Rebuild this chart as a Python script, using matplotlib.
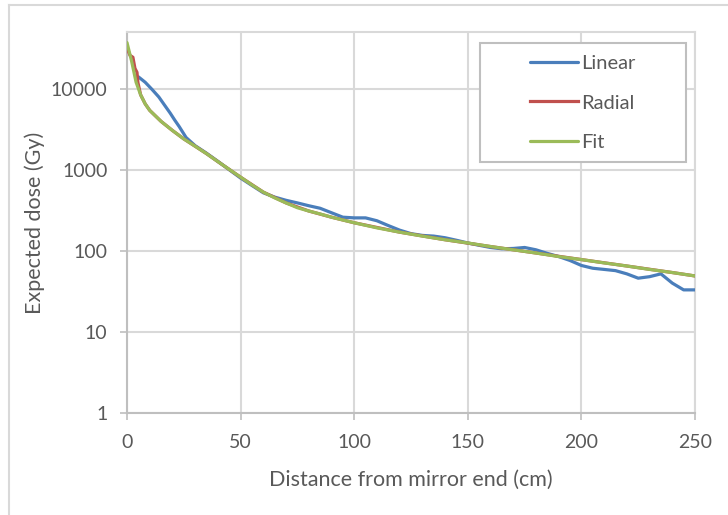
import matplotlib.pyplot as plt
from matplotlib.patches import Rectangle
from matplotlib.lines import Line2D

# distance (cm) and expected dose (Gy)
linear_x = [5, 8, 11, 14, 17, 19, 21, 23, 26, 30, 35, 40, 45, 50, 55, 60,
            65, 70, 75, 80, 85, 90, 95, 100, 105, 110, 115, 120, 125, 130, 135, 140,
            145, 150, 155, 160, 165, 170, 175, 180, 185, 190, 195, 200, 205, 210, 215,
            220, 225, 230, 235, 240, 245, 250]
linear_y = [14000, 12000, 9800, 7900, 6000, 5000, 4100, 3400, 2500, 1980, 1600, 1270,
            1000, 790, 640, 520, 460, 420, 390, 360, 335, 295,
            260, 255, 255, 235, 205, 180, 163, 155, 152, 145, 135, 125, 117, 110, 106,
            107, 110, 103, 93, 85, 76, 66, 61, 59, 57, 52, 46, 48, 52, 40, 33, 33]

radial_x = [0, 1.3, 2.6, 3.5, 4.4, 4.8, 6, 8, 10, 15, 20, 25, 30, 35, 40, 45, 50, 60, 70,
            80, 90, 100, 120, 140, 160, 180, 200, 220, 240, 250]
radial_y = [32000, 25800, 24400, 17800, 15900, 11900, 8400, 6500, 5400, 3950, 3050, 2400,
            1950, 1580, 1260, 1010, 810, 530, 390, 310, 260, 222, 170, 137, 113, 94, 78,
            65, 54, 49]

fit_x = [0, 2, 4, 6, 8, 10, 15, 20, 25, 30, 35, 40, 45, 50, 55, 60, 65, 70, 75, 80, 85,
         90, 95, 100, 110, 120, 130, 140, 150, 160, 170, 180, 190, 200, 210, 220, 230,
         240, 250]
fit_y = [37000, 22000, 12000, 8400, 6500, 5400, 3950, 3050, 2400, 1950, 1580, 1260, 1010,
         810, 650, 530, 450, 390, 340, 310, 285, 260, 240, 222, 192, 170, 152, 137, 125,
         113, 103, 94, 85, 78, 71, 65, 59, 54, 49]

xticks = [0, 50, 100, 150, 200, 250]
yticks = [1, 10, 100, 1000, 10000]

plt.rcParams['font.family'] = ['Lato', 'DejaVu Sans']
grey_text = '#595959'
grid_col = '#d9d9d9'

fig = plt.figure(figsize=(7.28, 5.15), dpi=100)
ax = fig.add_axes([127 / 728, 102 / 515, 568 / 728, 381 / 515])

ax.plot(linear_x, linear_y, color='#4a7ebb', lw=2.3, label='Linear',
        solid_capstyle='round', zorder=3)
ax.plot(radial_x, radial_y, color='#c0504d', lw=2.3, label='Radial', zorder=3)
ax.plot(fit_x, fit_y, color='#9bbb59', lw=2.3, label='Fit',
        solid_capstyle='round', zorder=4)

ax.set_yscale('log')
ax.set_xlim(0, 250)
ax.set_ylim(1, 50000)
ax.set_xticks(xticks)
ax.set_xticklabels([str(t) for t in xticks])
ax.set_yticks(yticks)
ax.set_yticklabels([str(t) for t in yticks])
ax.minorticks_off()

ax.grid(True, color=grid_col, lw=1.5)
ax.set_axisbelow(True)
for s in ['top', 'right']:
    ax.spines[s].set_color(grid_col)
    ax.spines[s].set_linewidth(1.5)
for s in ['left', 'bottom']:
    ax.spines[s].set_color('#bfbfbf')
    ax.spines[s].set_linewidth(1.5)
ax.tick_params(colors='#bfbfbf', labelcolor=grey_text, labelsize=14,
               length=5, width=1.2)
ax.tick_params(axis='y', pad=9)
ax.tick_params(axis='x', pad=10)

ax.set_xlabel('Distance from mirror end (cm)', fontsize=15.5, color=grey_text, labelpad=14)
ax.set_ylabel('Expected dose (Gy)', fontsize=15.5, color=grey_text, labelpad=4)

# legend box
ax.add_patch(Rectangle(((480 - 127) / 568, (413 - 162) / 381), 206 / 568, 119 / 381,
                       transform=ax.transAxes, fill=True, facecolor='white',
                       edgecolor='#bfbfbf', lw=1.5, zorder=5))
leg = ax.legend(loc='center', bbox_to_anchor=((583 - 127) / 568, (413 - 103) / 381),
                frameon=False, fontsize=14.5, handlelength=2.4, handletextpad=0.15,
                labelspacing=1.1, borderpad=0)
leg.set_zorder(6)
for t in leg.get_texts():
    t.set_color(grey_text)

# outer chart border
fig.add_artist(Line2D([8.5 / 728, 8.5 / 728], [0, 1 - 5 / 515], color=grid_col, lw=1.5))
fig.add_artist(Line2D([8.5 / 728, 1], [1 - 5 / 515, 1 - 5 / 515], color=grid_col, lw=1.5))

plt.savefig('out.png', dpi=100)
